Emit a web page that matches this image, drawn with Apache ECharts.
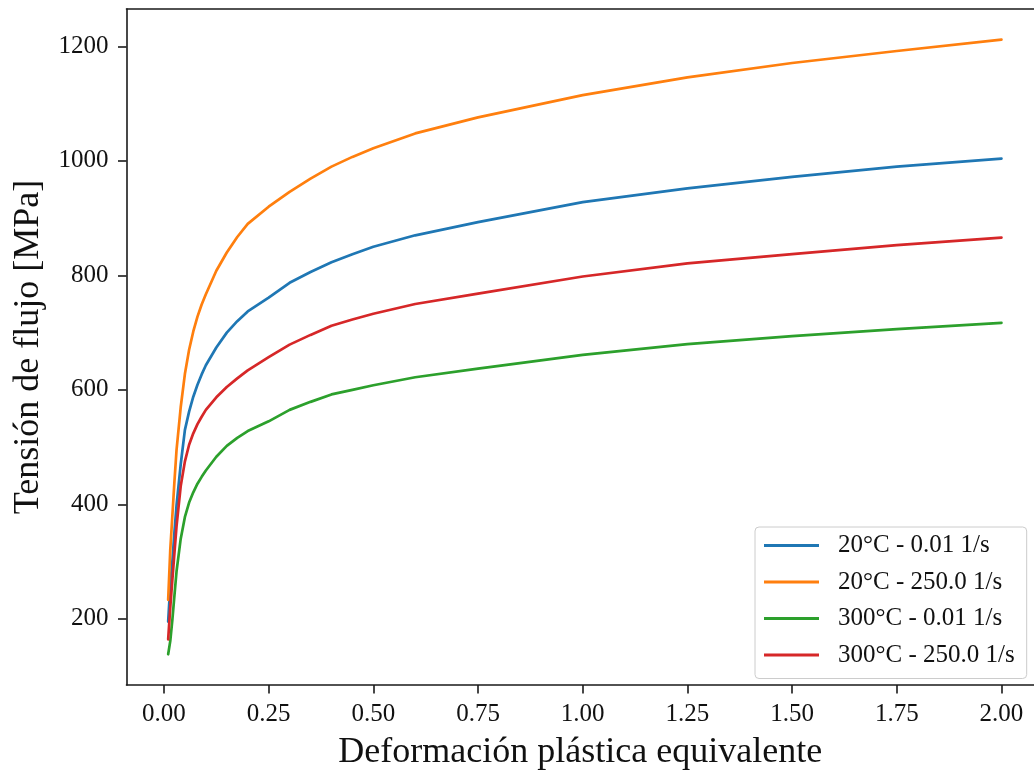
<!DOCTYPE html>
<html>
<head>
<meta charset="utf-8">
<script src="https://cdn.jsdelivr.net/npm/echarts@6/dist/echarts.min.js"></script>
<style>
html,body{margin:0;padding:0;background:#fff;}
#chart{width:1034px;height:776px;}
</style>
</head>
<body>
<div id="chart"></div>
<script>
// Equivalent plastic strain (x) shared by all curves
const strain = [0.01, 0.015, 0.02, 0.025, 0.03, 0.04, 0.05, 0.06, 0.07, 0.08, 0.09, 0.1, 0.125, 0.15, 0.175, 0.2, 0.25, 0.3, 0.35, 0.4, 0.45, 0.5, 0.6, 0.75, 1.0, 1.25, 1.5, 1.75, 2.0];
// Flow stress [MPa]
const s20_001  = [195, 258, 300, 352, 398, 470, 530, 562, 588, 609, 627, 643, 674, 700, 720, 737, 761, 787, 806, 823, 837, 850, 870, 893, 928, 952, 972, 990, 1004];
const s20_250  = [233, 320, 380, 440, 495, 570, 628, 670, 702, 728, 749, 767, 808, 840, 867, 890, 920, 946, 969, 990, 1007, 1022, 1048, 1076, 1115, 1146, 1171, 1192, 1212];
const s300_001 = [138, 161, 198, 241, 283, 340, 378, 403, 421, 436, 448, 459, 483, 502, 516, 528, 545, 565, 579, 592, 600, 608, 622, 637, 661, 680, 694, 706, 717];
const s300_250 = [164, 220, 268, 315, 362, 432, 475, 504, 524, 540, 553, 565, 587, 605, 620, 634, 657, 679, 696, 712, 723, 733, 750, 768, 798, 821, 837, 853, 866];
const seriesNames = ['20°C - 0.01 1/s', '20°C - 250.0 1/s', '300°C - 0.01 1/s', '300°C - 250.0 1/s'];
const seriesValues = [s20_001, s20_250, s300_001, s300_250];
const colors = ['#1f77b4', '#ff7f0e', '#2ca02c', '#d62728'];
const xTicks = [0, 0.25, 0.5, 0.75, 1.0, 1.25, 1.5, 1.75, 2.0];
const yTicks = [200, 400, 600, 800, 1000, 1200];

const FONT = 'Liberation Serif';
const chart = echarts.init(document.getElementById('chart'), null, {renderer: 'canvas'});
const spine = {show: true, onZero: false, lineStyle: {color: '#1a1a1a', width: 1.6}};
const tickStyle = {color: '#1a1a1a', width: 1.6};
const option = {
  backgroundColor: '#ffffff',
  animation: false,
  grid: {left: 126.5, top: 9, bottom: 86, right: 0, show: false},
  legend: {
    orient: 'vertical',
    left: 755, top: 527,
    padding: [6, 12, 11, 9],
    itemWidth: 55, itemHeight: 3,
    itemGap: 11.5,
    icon: 'rect',
    backgroundColor: 'rgba(255,255,255,0.8)',
    borderColor: '#cccccc', borderWidth: 1, borderRadius: 4,
    textStyle: {fontFamily: FONT, fontSize: 25, color: '#111', padding: [0, 0, 0, 14]},
    data: seriesNames
  },
  xAxis: [{
    type: 'value', min: -0.0895, max: 2.0777,
    position: 'bottom',
    name: 'Deformación plástica equivalente',
    nameLocation: 'middle', nameGap: 50,
    nameTextStyle: {fontFamily: FONT, fontSize: 36, color: '#111'},
    axisLine: spine,
    axisTick: {show: true, length: 8.5, lineStyle: tickStyle, customValues: xTicks},
    axisLabel: {show: true, margin: 17, fontFamily: FONT, fontSize: 25, color: '#111', customValues: xTicks,
      formatter: v => v.toFixed(2)},
    splitLine: {show: false}
  }, {
    type: 'value', min: -0.0895, max: 2.0777,
    position: 'top',
    axisLine: spine,
    axisTick: {show: false}, axisLabel: {show: false}, splitLine: {show: false}
  }],
  yAxis: [{
    type: 'value', min: 84.3, max: 1265.4,
    position: 'left',
    name: 'Tensión de flujo [MPa]',
    nameLocation: 'middle', nameGap: 80,
    nameTextStyle: {fontFamily: FONT, fontSize: 36, color: '#111'},
    axisLine: spine,
    axisTick: {show: true, length: 8.5, lineStyle: tickStyle, customValues: yTicks},
    axisLabel: {show: true, margin: 18, fontFamily: FONT, fontSize: 25, color: '#111', customValues: yTicks,
      formatter: v => String(Math.round(v))},
    splitLine: {show: false}
  }],
  series: seriesNames.map((name, i) => ({
    name: name,
    type: 'line',
    xAxisIndex: 0, yAxisIndex: 0,
    showSymbol: false,
    symbol: 'none',
    smooth: false,
    color: colors[i],
    lineStyle: {color: colors[i], width: 2.7, join: 'round', cap: 'round'},
    data: strain.map((x, j) => [x, seriesValues[i][j]])
  }))
};
chart.setOption(option);
</script>
</body>
</html>
